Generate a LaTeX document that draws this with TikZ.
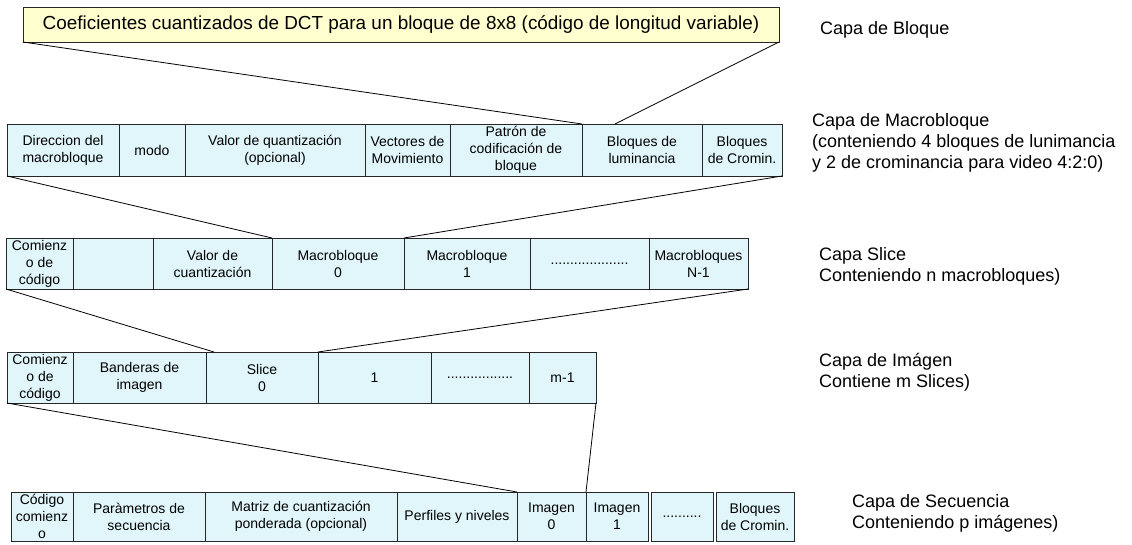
\documentclass[tikz,border=0pt]{standalone}
\usepackage{fontspec}
\setmainfont{Liberation Sans}
\usetikzlibrary{positioning}
\definecolor{cellblue}{RGB}{225,246,251}
\definecolor{noteyellow}{RGB}{255,255,208}

\begin{document}
\begin{tikzpicture}[
    x=1pt, y=-1pt,
    node distance=0pt,
    cell/.style={draw=black!85, line width=0.9pt, fill=cellblue, align=center, minimum width=#1pt, minimum height=51pt, inner xsep=1pt, inner ysep=0pt, outer sep=0pt, font=\fontsize{14}{17}\selectfont},
    note/.style={draw=black!85, line width=0.9pt, fill=noteyellow, align=center, inner sep=0pt, outer sep=0pt, font=\fontsize{18.9}{20}\selectfont},
    layer/.style={anchor=west, align=left, inner sep=0pt, font=\fontsize{18}{21}\selectfont},
    link/.style={draw=black, line width=0.8pt},
]
    \useasboundingbox (0,0) rectangle (1132,544);

    % Block layer
    \node[note, minimum width=756pt, minimum height=35pt, anchor=north west] (coef) at (23,7) {Coeficientes cuantizados de DCT para un bloque de 8x8 (código de longitud variable)};

    % Macroblock layer
    \node[cell=112, minimum height=52pt, anchor=north west] (dir) at (7,124) {Direccion del\\macrobloque};
    \node[cell=66, minimum height=52pt, right=of dir] (modo) {modo};
    \node[cell=180, minimum height=52pt, right=of modo] (quant) {Valor de quantización\\(opcional)};
    \node[cell=85, minimum height=52pt, right=of quant] (vect) {Vectores de\\Movimiento};
    \node[cell=132, minimum height=52pt, right=of vect] (patron) {Patrón de\\codificación de\\bloque};
    \node[cell=120, minimum height=52pt, right=of patron] (luma) {Bloques de\\luminancia};
    \node[cell=80, minimum height=52pt, right=of luma] (chroma) {Bloques\\de Cromin.};

    % Slice layer
    \node[cell=67, anchor=north west] (slStart) at (6,238) {Comienz\\o de\\código};
    \node[cell=80, right=of slStart] (slEmpty) {};
    \node[cell=119, right=of slEmpty] (slQuant) {Valor de\\cuantización};
    \node[cell=132, right=of slQuant] (mb0) {Macrobloque\\0};
    \node[cell=126, right=of mb0] (mb1) {Macrobloque\\1};
    \node[cell=119, right=of mb1] (mbDots) {....................};
    \node[cell=99, right=of mbDots] (mbLast) {Macrobloques\\N-1};

    % Picture layer
    \node[cell=66, anchor=north west] (picStart) at (7,352) {Comienz\\o de\\código};
    \node[cell=133, right=of picStart] (picFlags) {Banderas de\\imagen};
    \node[cell=112, right=of picFlags] (slice0) {Slice\\0};
    \node[cell=113, right=of slice0] (slice1) {1};
    \node[cell=98, right=of slice1] (sliceDots) {.................};
    \node[cell=67, right=of sliceDots] (sliceLast) {m-1};

    % Sequence layer
    \node[cell=62, minimum height=49pt, anchor=north west] (seqStart) at (11,492) {Código\\comienz\\o};
    \node[cell=132, minimum height=49pt, right=of seqStart] (seqParam) {Paràmetros de\\secuencia};
    \node[cell=192, minimum height=49pt, right=of seqParam] (seqMatrix) {Matriz de cuantización\\ponderada (opcional)};
    \node[cell=120, minimum height=49pt, right=of seqMatrix] (seqProfile) {Perfiles y niveles};
    \node[cell=69, minimum height=49pt, right=of seqProfile] (img0) {Imagen\\0};
    \node[cell=62, minimum height=49pt, right=of img0] (img1) {Imagen\\1};
    \node[cell=62, minimum height=49pt, right=3pt of img1] (imgDots) {..........};
    \node[cell=78, minimum height=49pt, right=3pt of imgDots] (seqChroma) {Bloques\\de Cromin.};

    % Expansion lines
    \coordinate (lumaTop) at ([xshift=33pt]luma.north west);
    \coordinate (slice0Top) at ([xshift=8pt]slice0.north west);
    \draw[link] (coef.south west) -- (luma.north west);
    \draw[link] (coef.south east) -- (lumaTop);
    \draw[link] (dir.south west) -- (mb0.north west);
    \draw[link] (chroma.south east) -- (mb0.north east);
    \draw[link] (slStart.south west) -- (slice0Top);
    \draw[link] (mbLast.south east) -- (slice0.north east);
    \draw[link] (picStart.south west) -- (img0.north west);
    \draw[link] (sliceLast.south east) -- (img0.north east);

    % Layer names
    \node[layer] (lblBlock) at (820,30) {Capa de Bloque};
    \node[layer] (lblMacro) at (812,143) {Capa de Macrobloque\\(conteniendo 4 bloques de lunimancia\\y 2 de crominancia para video 4:2:0)};
    \node[layer] (lblSlice) at (819,266) {Capa Slice\\Conteniendo n macrobloques)};
    \node[layer] (lblPic) at (819,372) {Capa de Imágen\\Contiene m Slices)};
    \node[layer] (lblSeq) at (852,513) {Capa de Secuencia\\Conteniendo p imágenes)};
\end{tikzpicture}
\end{document}
